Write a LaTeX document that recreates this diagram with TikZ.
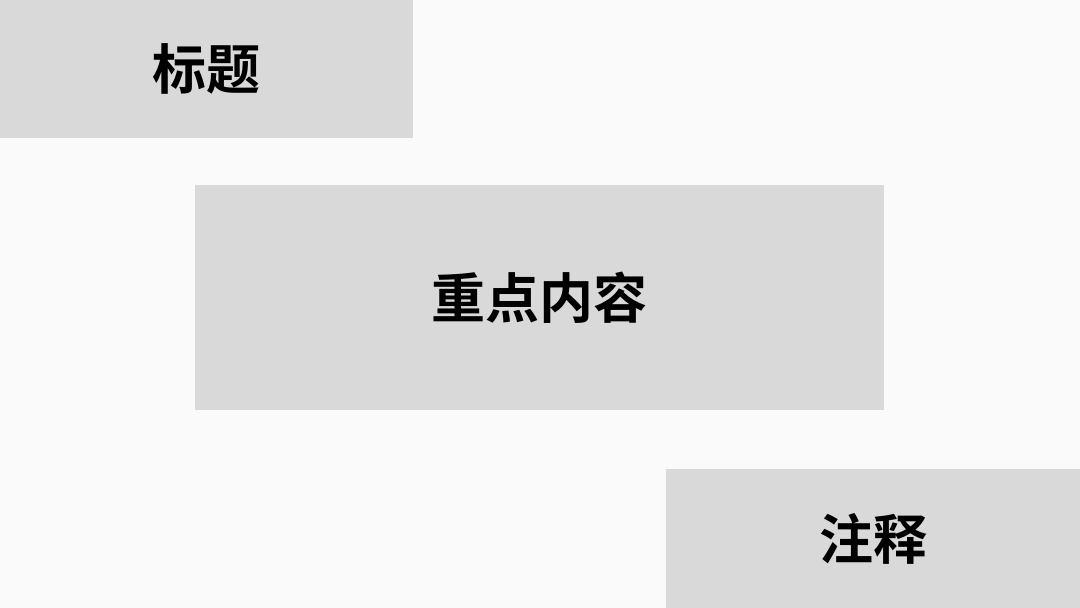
\documentclass[tikz,border=0pt]{standalone}
\usepackage{fontspec}
\newfontfamily\cjkb{Noto Sans CJK SC Bold}
\definecolor{bg}{HTML}{FAFAFA}
\definecolor{boxgray}{HTML}{D9D9D9}
\begin{document}
\begin{tikzpicture}[x=1pt,y=1pt,
  block/.style={fill=boxgray,draw=none,inner sep=0pt,font=\cjkb\fontsize{54}{64}\selectfont,text=black}]
\useasboundingbox (0,0) rectangle (1080,608);
\fill[bg] (0,0) rectangle (1080,608);
\node[block,minimum width=413pt,minimum height=138pt] (title) at (206.5,539) {标题};
\node[block,minimum width=689pt,minimum height=225pt] (main) at (539.5,310.5) {重点内容};
\node[block,minimum width=414pt,minimum height=139pt] (note) at (873,69.5) {注释};
\end{tikzpicture}
\end{document}
